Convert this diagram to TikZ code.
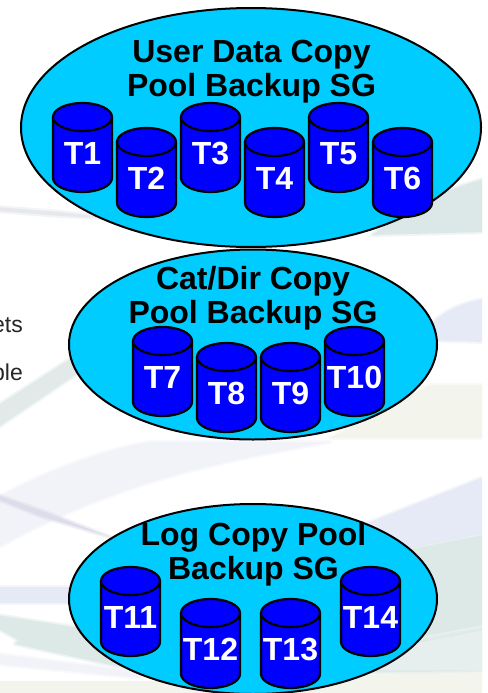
\documentclass[tikz,border=0pt]{standalone}
\usepackage{fontspec}
\setmainfont{Liberation Sans}
\usetikzlibrary{shapes.geometric}
\definecolor{poolcyan}{HTML}{00CCFF}
\definecolor{tapeblue}{HTML}{0000FF}
\definecolor{bgteal}{HTML}{DCE8E8}
\definecolor{bgdiag}{HTML}{E2E9E9}
\definecolor{bgblue}{HTML}{E5EAF6}
\definecolor{bgpale}{HTML}{F1F3F9}
\definecolor{bggrey}{HTML}{E6E8EC}
\definecolor{bgpurple}{HTML}{DCDCEA}
\definecolor{bggreen}{HTML}{DDE9E7}
\definecolor{bgstrip}{HTML}{F3F5EC}
\tikzset{
  pool/.style={ellipse,draw=black,line width=2pt,fill=poolcyan,inner sep=0pt},
  pooltitle/.style={font=\bfseries\fontsize{32}{34}\selectfont,text=black,align=center,inner sep=0pt},
  tapebody/.style={draw=black,line width=2.2pt,fill=tapeblue,line join=round},
  tapelabel/.style={font=\bfseries\fontsize{32}{34}\selectfont,text=white,inner sep=0pt,anchor=base},
  cutoff/.style={font=\fontsize{23}{26}\selectfont,text=black!85,inner sep=0pt,anchor=base east},
  streak/.style={fill=#1,draw=#1,draw opacity=.45,line width=4pt,line join=round}
}
% #1 name, #2 centre x, #3 top y, #4 label
\newcommand{\tapecyl}[4]{%
  \path[tapebody] (#2-29.5,#3+14) -- (#2-29.5,#3+75) arc[start angle=180,end angle=0,x radius=29.5,y radius=14]
    -- (#2+29.5,#3+14) arc[start angle=0,end angle=-180,x radius=29.5,y radius=14] -- cycle;
  \draw[tapebody,fill=none] (#2-29.5,#3+14) arc[start angle=180,end angle=0,x radius=29.5,y radius=14];
  \node[tapelabel] (#1) at (#2,#3+61) {#4};
}
\begin{document}
\begin{tikzpicture}[x=1pt,y=-1pt]
\useasboundingbox (0,0) rectangle (487,693);
\clip (0,0) rectangle (487,693);
\fill[white] (0,0) rectangle (487,693);
\begin{scope}
\clip (0,0) rectangle (482,693);
% background streaks
\path[streak=bgteal] (484,179) .. controls (440,190) and (400,215) .. (372,235) -- (484,232) -- cycle;
\path[streak=bggrey] (-3,207) -- (60,212) -- (120,219) -- (60,216) -- (-3,211) -- cycle;
\path[streak=bgblue] (484,299) .. controls (450,305) and (430,320) .. (420,340) -- (484,342) -- cycle;
\path[streak=bgstrip] (430,385) -- (484,385) -- (484,438) -- (330,438) -- cycle;
\path[streak=bgdiag] (-3,406) -- (70,359) -- (90,350) -- (90,365) -- (-3,428) -- cycle;
\path[streak=bgpale] (-3,498) .. controls (30,480) and (90,452) .. (150,442) -- (330,442) .. controls (220,462) and (120,480) .. (-3,548) -- cycle;
\path[streak=bgpurple] (-3,495) -- (40,510) -- (110,537) -- (40,516) -- (-3,499) -- cycle;
\path[streak=bgblue] (-3,587) -- (80,587) -- (80,603) -- (-3,603) -- cycle;
\path[streak=bggreen] (-3,615) -- (80,628) -- (125,640) -- (125,668) -- (15,644) -- (18,640) -- (-3,628) -- cycle;
\path[streak=bgpale] (-3,654) -- (140,672) -- (140,678) -- (-3,664) -- cycle;
\path[streak=bgblue] (484,477) -- (350,530) -- (350,560) -- (484,533) -- cycle;
\path[streak=bggreen] (380,555) -- (484,535) -- (484,625) -- (380,645) -- cycle;
\path[streak=bgteal,opacity=.7] (370,650) -- (484,628) -- (484,672) -- (340,672) -- cycle;
\fill[bgstrip] (0,681) rectangle (482,693);
\path[streak=bgstrip] (340,676) -- (484,672) -- (484,685) -- (340,685) -- cycle;
\end{scope}
% cut-off slide text
\node[cutoff] (txtA) at (23,332) {ets};
\node[cutoff] (txtB) at (23,380) {ble};
% pools
\node[pool,minimum width=460pt,minimum height=239pt] (poolA) at (251,127.5) {};
\node[pool,minimum width=368pt,minimum height=190pt] (poolB) at (253,344.5) {};
\node[pool,minimum width=368pt,minimum height=190pt] (poolC) at (253,599) {};
\node[pooltitle,anchor=base] (titleA) at (251.5,96) {User Data Copy\\Pool Backup SG};
\node[pooltitle,anchor=base] (titleB) at (253,323) {Cat/Dir Copy\\Pool Backup SG};
\node[pooltitle,anchor=base] (titleC) at (253.5,579) {Log Copy Pool\\Backup SG};
% tapes
\tapecyl{t1}{82.5}{103}{T1}
\tapecyl{t2}{146.5}{128}{T2}
\tapecyl{t3}{210.5}{103}{T3}
\tapecyl{t4}{274.5}{128}{T4}
\tapecyl{t5}{338.5}{103}{T5}
\tapecyl{t6}{402.5}{128}{T6}
\tapecyl{t7}{162.5}{327}{T7}
\tapecyl{t8}{226.5}{343}{T8}
\tapecyl{t9}{290.5}{343}{T9}
\tapecyl{t10}{354.5}{327}{T10}
\tapecyl{t11}{130.5}{567}{T11}
\tapecyl{t12}{210.5}{599}{T12}
\tapecyl{t13}{290.5}{599}{T13}
\tapecyl{t14}{370.5}{567}{T14}
\end{tikzpicture}
\end{document}
